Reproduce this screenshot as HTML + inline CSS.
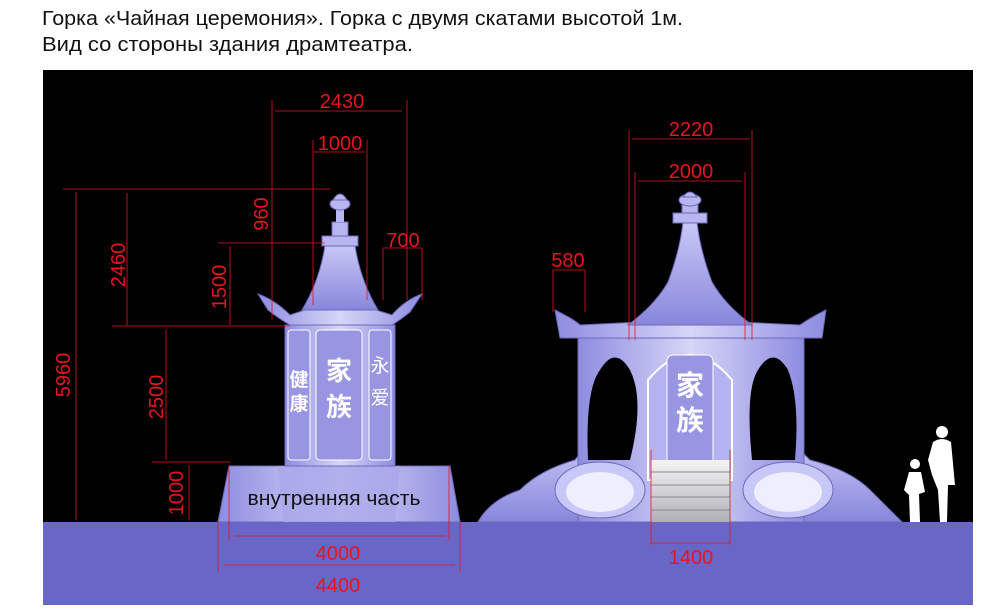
<!DOCTYPE html>
<html><head><meta charset="utf-8"><style>
body{margin:0;background:#fff;width:1000px;height:613px;overflow:hidden}
svg{display:block}
.t{font-family:"Liberation Sans",sans-serif;fill:#e8141e;font-size:20px}
</style></head><body>
<svg width="1000" height="613" viewBox="0 0 1000 613" xmlns="http://www.w3.org/2000/svg">
<defs>
<linearGradient id="g" x1="0" x2="1"><stop offset="0" stop-color="#8e8ce0"/><stop offset="0.5" stop-color="#d6d6f8"/><stop offset="1" stop-color="#8e8ce0"/></linearGradient>
<linearGradient id="gv" x1="0" y1="0" x2="0" y2="1"><stop offset="0" stop-color="#c8c8f6"/><stop offset="1" stop-color="#8886dc"/></linearGradient>
<linearGradient id="st" x1="0" y1="0" x2="0" y2="1"><stop offset="0" stop-color="#f4f4f4"/><stop offset="1" stop-color="#b0b0b8"/></linearGradient>
</defs>
<text x="42" y="25" font-family="Liberation Sans,sans-serif" font-size="20" fill="#111" textLength="641" lengthAdjust="spacingAndGlyphs">Горка «Чайная церемония».  Горка с двумя скатами высотой 1м.</text>
<text x="42" y="51" font-family="Liberation Sans,sans-serif" font-size="20" fill="#111" textLength="371" lengthAdjust="spacingAndGlyphs">Вид со стороны здания драмтеатра.</text>
<rect x="43" y="70" width="930" height="452" fill="#000"/>
<rect x="43" y="522" width="930" height="83" fill="#6a66c8"/>

<!-- LEFT STRUCTURE -->
<path d="M229 466 L450 466 L460 522 L218 522 Z" fill="url(#g)" stroke="#6c6ab8"/>
<path d="M278 466 L400 466 L395 522 L283 522 Z" fill="#a8a6ea" opacity="0.8"/>
<rect x="285" y="325" width="110" height="141" fill="url(#g)" stroke="#6c6ab8"/>
<rect x="288" y="330" width="22" height="130" rx="3" fill="#9896e2" stroke="#fff"/>
<rect x="316" y="330" width="46" height="130" rx="4" fill="#9896e2" stroke="#fff"/>
<rect x="369" y="330" width="22" height="130" rx="3" fill="#9896e2" stroke="#fff"/>
<text x="339" y="380" font-family="Noto Sans CJK SC,sans-serif" font-size="26" fill="#fff" text-anchor="middle" font-weight="bold">家</text>
<text x="339" y="416" font-family="Noto Sans CJK SC,sans-serif" font-size="26" fill="#fff" text-anchor="middle" font-weight="bold">族</text>
<text x="299" y="386" font-family="Noto Sans CJK SC,sans-serif" font-size="19" fill="#fff" text-anchor="middle" font-weight="bold">健</text>
<text x="299" y="410" font-family="Noto Sans CJK SC,sans-serif" font-size="19" fill="#fff" text-anchor="middle" font-weight="bold">康</text>
<text x="380" y="372" font-family="Noto Sans CJK SC,sans-serif" font-size="19" fill="#fff" text-anchor="middle">永</text>
<text x="380" y="404" font-family="Noto Sans CJK SC,sans-serif" font-size="19" fill="#fff" text-anchor="middle">爱</text>
<path d="M290 325 Q300 312 320 305 L360 305 Q380 312 392 325 Z" fill="#9e9ce6" stroke="#6c6ab8"/>
<path d="M258 294 Q275 300 290 315 L320 305 Q330 275 340 245 Q350 275 360 305 L392 315 Q405 300 422 294 L410 312 Q400 320 392 325 L290 325 Q278 318 268 310 Z" fill="url(#g)" stroke="#6c6ab8"/>
<path d="M325 245 L355 245 Q360 280 378 310 L302 310 Q320 280 325 245 Z" fill="url(#gv)" stroke="#6c6ab8"/>
<rect x="322" y="236" width="36" height="10" fill="#b8b6f0" stroke="#6c6ab8"/>
<rect x="332" y="222" width="16" height="14" fill="#b8b6f0" stroke="#6c6ab8"/>
<rect x="336" y="210" width="8" height="12" fill="#b8b6f0"/>
<ellipse cx="340" cy="204" rx="10" ry="6" fill="#b8b6f0" stroke="#6c6ab8"/>
<path d="M333 200 Q340 188 347 200 Z" fill="#b8b6f0" stroke="#6c6ab8"/>
<text x="334" y="505" font-family="Liberation Sans,sans-serif" font-size="20" fill="#111" text-anchor="middle" textLength="173" lengthAdjust="spacingAndGlyphs">внутренняя часть</text>

<!-- RIGHT STRUCTURE -->
<path d="M478 522 Q490 500 520 490 Q540 470 575 460 L590 440 L790 440 L810 460 Q850 470 870 490 L880 500 L902 522 Z" fill="url(#gv)" stroke="#6c6ab8"/>
<rect x="578" y="338" width="226" height="184" fill="url(#g)" stroke="#6c6ab8"/>
<path d="M588 460 Q585 390 600 370 Q615 345 630 370 Q645 400 630 460 Z" fill="#000"/>
<path d="M752 460 Q745 390 758 370 Q773 345 788 370 Q800 400 795 460 Z" fill="#000"/>
<path d="M648 480 L648 380 Q690 330 732 380 L732 480 Z" fill="#b4b2f0" stroke="#fff" stroke-width="2"/>
<rect x="667" y="355" width="46" height="120" rx="6" fill="#9896e2" stroke="#fff"/>
<text x="690" y="395" font-family="Noto Sans CJK SC,sans-serif" font-size="28" fill="#fff" text-anchor="middle" font-weight="bold">家</text>
<text x="690" y="430" font-family="Noto Sans CJK SC,sans-serif" font-size="28" fill="#fff" text-anchor="middle" font-weight="bold">族</text>
<rect x="651" y="460" width="79" height="62" fill="url(#st)"/>
<g stroke="#888" stroke-width="1"><line x1="651" y1="472" x2="730" y2="472"/><line x1="651" y1="485" x2="730" y2="485"/><line x1="651" y1="497" x2="730" y2="497"/><line x1="651" y1="510" x2="730" y2="510"/></g>
<ellipse cx="600" cy="490" rx="45" ry="28" fill="#c8c8f8" stroke="#6c6ab8"/>
<ellipse cx="600" cy="492" rx="34" ry="20" fill="#eeeeff"/>
<ellipse cx="788" cy="490" rx="45" ry="28" fill="#c8c8f8" stroke="#6c6ab8"/>
<ellipse cx="788" cy="492" rx="34" ry="20" fill="#eeeeff"/>
<path d="M555 310 Q575 320 580 325 L640 322 Q665 300 690 300 Q715 300 740 322 L800 325 Q810 318 826 310 L822 338 L560 338 Z" fill="url(#g)" stroke="#6c6ab8"/>
<path d="M628 325 Q655 305 668 282 Q680 250 683 222 L697 222 Q700 250 712 282 Q725 305 752 325 Z" fill="url(#gv)" stroke="#6c6ab8"/>
<rect x="673" y="213" width="34" height="10" fill="#b8b6f0" stroke="#6c6ab8"/>
<rect x="682" y="200" width="16" height="13" fill="#b8b6f0" stroke="#6c6ab8"/>
<ellipse cx="690" cy="200" rx="11" ry="6" fill="#b8b6f0" stroke="#6c6ab8"/>
<path d="M683 197 Q690 187 697 197 Z" fill="#b8b6f0" stroke="#6c6ab8"/>
<!-- people -->
<g fill="#fff">
<circle cx="942" cy="432" r="6"/><path d="M933 442 Q942 436 951 442 L955 485 L948 485 L947 522 L940 522 L938 490 L932 475 L928 460 Z"/>
<circle cx="915" cy="464" r="5"/><path d="M909 472 L921 472 L925 492 L919 494 L920 522 L910 522 L909 495 L904 490 Z"/>
</g>

<!-- DIMENSIONS -->
<g stroke="#e8141e" stroke-width="0.8" fill="none">
<line x1="272" y1="100" x2="272" y2="320"/><line x1="407" y1="100" x2="407" y2="300"/><line x1="275" y1="111" x2="402" y2="111"/>
<line x1="313" y1="140" x2="313" y2="305"/><line x1="367" y1="140" x2="367" y2="300"/><line x1="314" y1="152" x2="365" y2="152"/>
<line x1="63" y1="189" x2="330" y2="189"/><line x1="76" y1="192" x2="76" y2="520"/>
<line x1="127" y1="193" x2="127" y2="325"/>
<line x1="218" y1="243" x2="325" y2="243"/><line x1="230" y1="246" x2="230" y2="325"/>
<line x1="383" y1="248" x2="422" y2="248"/><line x1="383" y1="248" x2="383" y2="300"/><line x1="422" y1="248" x2="422" y2="300"/>
<line x1="112" y1="326" x2="290" y2="326"/><line x1="166" y1="330" x2="166" y2="460"/>
<line x1="152" y1="462" x2="230" y2="462"/><line x1="189" y1="465" x2="189" y2="520"/>
<line x1="229" y1="466" x2="229" y2="540"/><line x1="449" y1="466" x2="449" y2="540"/><line x1="235" y1="536" x2="446" y2="536"/>
<line x1="218" y1="522" x2="218" y2="572"/><line x1="460" y1="522" x2="460" y2="572"/><line x1="224" y1="565" x2="455" y2="565"/>
<line x1="629" y1="130" x2="629" y2="340"/><line x1="752" y1="130" x2="752" y2="340"/><line x1="632" y1="139" x2="750" y2="139"/>
<line x1="635" y1="172" x2="635" y2="340"/><line x1="745" y1="172" x2="745" y2="340"/><line x1="638" y1="181" x2="742" y2="181"/>
<line x1="553" y1="270" x2="585" y2="270"/><line x1="553" y1="270" x2="553" y2="312"/><line x1="585" y1="270" x2="585" y2="312"/>
<line x1="651" y1="450" x2="651" y2="545"/><line x1="730" y1="450" x2="730" y2="545"/><line x1="651" y1="543" x2="730" y2="543"/>
</g>
<text class="t" x="342" y="108" text-anchor="middle">2430</text>
<text class="t" x="340" y="150" text-anchor="middle">1000</text>
<text class="t" x="403" y="247" text-anchor="middle">700</text>
<text class="t" transform="translate(70,375) rotate(-90)" text-anchor="middle">5960</text>
<text class="t" transform="translate(125,265) rotate(-90)" text-anchor="middle">2460</text>
<text class="t" transform="translate(268,214) rotate(-90)" text-anchor="middle">960</text>
<text class="t" transform="translate(226,287) rotate(-90)" text-anchor="middle">1500</text>
<text class="t" transform="translate(163,397) rotate(-90)" text-anchor="middle">2500</text>
<text class="t" transform="translate(183,493) rotate(-90)" text-anchor="middle">1000</text>
<text class="t" x="338" y="560" text-anchor="middle">4000</text>
<text class="t" x="338" y="592" text-anchor="middle">4400</text>
<text class="t" x="691" y="136" text-anchor="middle">2220</text>
<text class="t" x="691" y="178" text-anchor="middle">2000</text>
<text class="t" x="568" y="267" text-anchor="middle" font-size="16">580</text>
<text class="t" x="691" y="564" text-anchor="middle">1400</text>
</svg>
</body></html>
